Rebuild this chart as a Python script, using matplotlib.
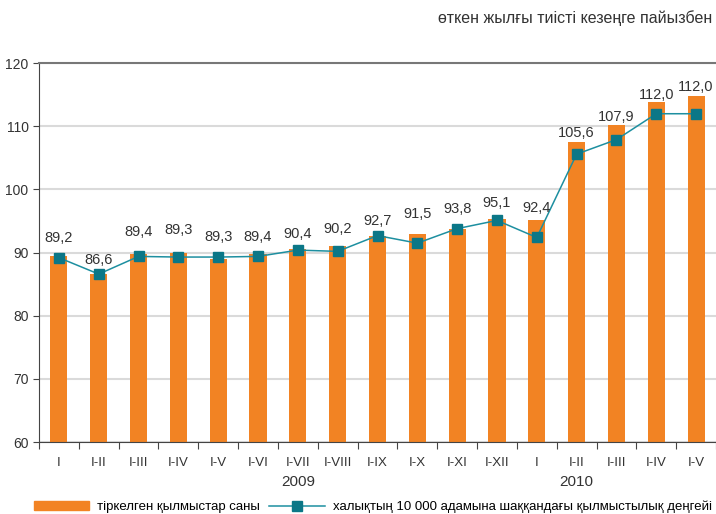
import numpy as np
import matplotlib
matplotlib.use('Agg')
import matplotlib.pyplot as plt
from matplotlib.lines import Line2D
from matplotlib.patches import Patch

plt.rcParams['font.family'] = ['Liberation Sans', 'DejaVu Sans']

#------------------------------------------------------------------------------
# data
periods = ['I', 'I-II', 'I-III', 'I-IV', 'I-V', 'I-VI', 'I-VII', 'I-VIII', 'I-IX',
           'I-X', 'I-XI', 'I-XII', 'I', 'I-II', 'I-III', 'I-IV', 'I-V']
years = ['2009', '2010']
year_pos = [6.0, 13.0]

crimes = [89.5, 86.6, 89.8, 90.0, 89.0, 89.8, 90.5, 91.1, 92.6,
          93.0, 93.8, 95.3, 95.2, 107.5, 110.2, 113.8, 114.8]
rate = [89.2, 86.6, 89.4, 89.3, 89.3, 89.4, 90.4, 90.2, 92.7,
        91.5, 93.8, 95.1, 92.4, 105.6, 107.9, 112.0, 112.0]

bar_label = 'тіркелген қылмыстар саны'
line_label = 'халықтың 10 000 адамына шаққандағы қылмыстылық деңгейі'
title = 'өткен жылғы тиісті кезеңге пайызбен'

orange = '#F28323'
teal = '#1D8FA0'
teal_dark = '#0B7787'

# gap (px) between each value label and the top of its bar / marker
label_gap = [11, 7, 15, 16, 13, 10, 8, 10, 8, 13, 13, 9, 5, 2, 1, 0, 2]

#------------------------------------------------------------------------------
fig = plt.figure(figsize=(7.16, 5.14), dpi=100)
ax = fig.add_axes([0.0545, 0.140, 0.9455, 0.737])

x = np.arange(len(periods))
ax.bar(x, crimes, width=0.43, bottom=0, color=orange, zorder=2)
ax.plot(x, rate, color=teal, lw=1.1, marker='s', ms=6.5,
        mfc=teal_dark, mec=teal_dark, zorder=3)

for i, v in enumerate(rate):
    top = max(v, crimes[i])
    ax.annotate(f'{v:.1f}'.replace('.', ','), (i, top), xytext=(0, label_gap[i] * 0.72),
                textcoords='offset points', ha='center', va='bottom',
                fontsize=10.5, color='#333333', zorder=4)

ax.set_xlim(-0.5, len(periods) - 0.5)
ax.set_ylim(60, 120)
ax.set_yticks(np.arange(60, 121, 10))
ax.yaxis.grid(True, color='#DADADA', lw=1.5, zorder=0)
ax.set_axisbelow(True)

ax.spines['right'].set_visible(False)
ax.spines['top'].set_color('#777777')
ax.spines['top'].set_linewidth(1.5)
ax.spines['left'].set_color('#444444')
ax.spines['bottom'].set_color('#444444')

ax.set_xticks(np.arange(-0.5, len(periods), 1.0))
ax.set_xticklabels([])
ax.set_xticks(x, minor=True)
ax.set_xticklabels(periods, minor=True)
ax.tick_params(axis='x', which='major', direction='out', length=5, color='#444444')
ax.tick_params(axis='x', which='minor', length=0, pad=11, labelsize=9.5, labelcolor='#333333')
ax.tick_params(axis='y', direction='out', length=4, color='#444444', labelsize=10, labelcolor='#333333')

for yr, p in zip(years, year_pos):
    ax.text(p, -0.105, yr, transform=ax.get_xaxis_transform(), ha='center',
            va='center', fontsize=11, color='#333333')

fig.text(0.995, 0.965, title, ha='right', va='center', fontsize=11.5, color='#333333')

handles = [Patch(color=orange),
           Line2D([0], [0], color=teal, lw=1.1, marker='s', ms=6.5,
                  mfc=teal_dark, mec=teal_dark)]
fig.legend(handles, [bar_label, line_label], loc='lower left', ncol=2,
           bbox_to_anchor=(0.04, -0.009), frameon=False, fontsize=9.5,
           handlelength=4.2, handleheight=0.7, columnspacing=0.7, handletextpad=0.6,
           borderaxespad=0.2, borderpad=0.2)

plt.savefig('out.png', dpi=100)
